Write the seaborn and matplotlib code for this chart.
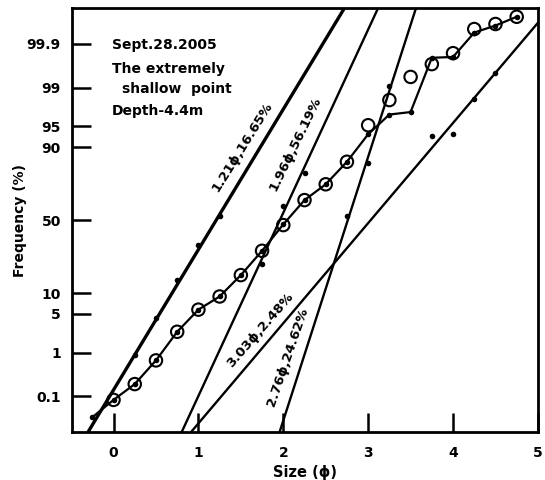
import numpy as np
import pandas as pd
import matplotlib
matplotlib.use("Agg")
import matplotlib.pyplot as plt
import seaborn as sns
from statistics import NormalDist

# ---------------- data ----------------
cum_phi = [-0.25, 0, 0.25, 0.5, 0.75, 1.0, 1.25, 1.5, 1.75, 2.0, 2.25,
           2.5, 2.75, 3.0, 3.25, 3.5, 3.75, 4.0, 4.25, 4.5, 4.75]
cum_pct = [0.027, 0.08, 0.2, 0.69, 2.5, 5.8, 9.0, 16.7, 29.5, 47.0, 63.7,
           73.5, 84.7, 93.4, 96.8, 97.1, 99.78, 99.79, 99.95, 99.968, 99.982]

circ_phi = [0, 0.25, 0.5, 0.75, 1.0, 1.25, 1.5, 1.75, 2.0, 2.25, 2.5,
            2.75, 3.0, 3.25, 3.5, 3.75, 4.0, 4.25, 4.5, 4.75]
circ_pct = [0.08, 0.2, 0.69, 2.5, 5.8, 9.0, 16.7, 29.5, 46.5, 63.7, 73.5,
            84.7, 95.2, 98.24, 99.4, 99.69, 99.83, 99.96, 99.971, 99.982]

pop1_phi = [0.25, 0.5, 0.75, 1.0, 1.25]
pop1_pct = [0.89, 4.24, 14.6, 33.0, 53.0]
pop2_phi = [1.75, 2.0, 2.25]
pop2_pct = [22.0, 59.7, 79.4]
pop3_phi = [2.75, 3.0, 3.25]
pop3_pct = [52.8, 84.2, 99.06]
pop4_phi = [3.75, 4.0, 4.25, 4.5]
pop4_pct = [92.9, 93.4, 98.35, 99.51]

fit_mean = [1.21, 1.96, 2.76, 3.03]
fit_sd = [0.406, 0.311, 0.216, 0.569]
fit_label = ["1.21\u03d5,16.65%", "1.96\u03d5,56.19%",
             "2.76\u03d5,24.62%", "3.03\u03d5,2.48%"]

y_ticks = [0.1, 1, 5, 10, 50, 90, 95, 99, 99.9]
y_tick_labels = ["0.1", "1", "5", "10", "50", "90", "95", "99", "99.9"]
x_ticks = [0, 1, 2, 3, 4, 5]
x_tick_labels = ["0", "1", "2", "3", "4", "5"]

note_lines = ["Sept.28.2005", "The extremely", "shallow  point", "Depth-4.4m"]

# ---------------- probability (probit) scale ----------------
ND = NormalDist()
_f = np.vectorize(lambda v: ND.inv_cdf(v / 100.0), otypes=[float])
_g = np.vectorize(lambda z: ND.cdf(z) * 100.0, otypes=[float])


def fwd(p):
    p = np.clip(np.asarray(p, dtype=float), 1e-10, 100 - 1e-10)
    return _f(p)


def inv(z):
    return _g(np.asarray(z, dtype=float))


sns.set_style("white")
plt.rcParams["font.family"] = ["DejaVu Sans"]
plt.rcParams["font.weight"] = "bold"
plt.rcParams["text.color"] = "black"
plt.rcParams["axes.labelcolor"] = "black"

fig = plt.figure(figsize=(5.45, 4.8), dpi=100)
ax = fig.add_axes([0.132, 0.1, 0.855, 0.883])
ax.set_yscale("function", functions=(fwd, inv))

# fitted population lines (straight on probability paper)
for i, (m, s) in enumerate(zip(fit_mean, fit_sd)):
    xs = [m - 5 * s, m + 5 * s]
    df = pd.DataFrame({"phi": xs,
                       "pct": [NormalDist(m, s).cdf(v) * 100 for v in xs]})
    sns.lineplot(data=df, x="phi", y="pct", ax=ax, color="black",
                 lw=2.4 if i == 0 else 1.7, estimator=None, sort=False)

# cumulative curve
cum_df = pd.DataFrame({"phi": cum_phi, "pct": cum_pct})
sns.lineplot(data=cum_df, x="phi", y="pct", ax=ax, color="black", lw=1.6,
             estimator=None, sort=False)
sns.scatterplot(data=cum_df, x="phi", y="pct", ax=ax, color="black", s=16,
                edgecolor="black", linewidth=0, zorder=4)

# component population points
for px, py in [(pop1_phi, pop1_pct), (pop2_phi, pop2_pct),
               (pop3_phi, pop3_pct), (pop4_phi, pop4_pct)]:
    sns.scatterplot(x=px, y=py, ax=ax, color="black", s=16,
                    edgecolor="black", linewidth=0, zorder=4)

# open circles
sns.scatterplot(x=circ_phi, y=circ_pct, ax=ax, marker="o", s=80,
                facecolor="none", edgecolor="black", linewidth=1.5, zorder=5)

ax.set_xlim(-0.49, 5.0)
ax.set_ylim(0.01, 99.99)
ax.set_xticks(x_ticks)
ax.set_xticklabels(x_tick_labels)
ax.set_yticks(y_ticks)
ax.set_yticklabels(y_tick_labels)
ax.minorticks_off()
ax.tick_params(axis="both", direction="in", length=14, width=1.8,
               labelsize=10, colors="black", left=True, bottom=True,
               right=False, top=False)
ax.tick_params(axis="y", pad=8)
ax.tick_params(axis="x", pad=10)
for lab in ax.get_xticklabels() + ax.get_yticklabels():
    lab.set_fontweight("bold")
for sp in ax.spines.values():
    sp.set_visible(True)
    sp.set_linewidth(2)
    sp.set_color("black")

ax.set_xlabel("Size (\u03d5)", fontsize=10.5, fontweight="bold", labelpad=4)
ax.set_ylabel("Frequency (%)", fontsize=10, fontweight="bold", labelpad=0)

# note block
note_x = [0.086, 0.086, 0.107, 0.086]
note_y = [0.913, 0.856, 0.809, 0.757]
for t, xx, yy in zip(note_lines, note_x, note_y):
    ax.text(xx, yy, t, transform=ax.transAxes, fontsize=10,
            fontweight="bold", ha="left", va="center", color="black")

# rotated line labels
lab_pos = [(0.365, 0.672, 58), (0.480, 0.680, 64),
           (0.462, 0.177, 71), (0.404, 0.240, 49)]
for t, (fx, fy, rot) in zip(fit_label, lab_pos):
    ax.text(fx, fy, t, transform=ax.transAxes, fontsize=9.5,
            fontweight="bold", rotation=rot, rotation_mode="anchor",
            ha="center", va="center", color="black")

fig.savefig("out.png", dpi=100)
